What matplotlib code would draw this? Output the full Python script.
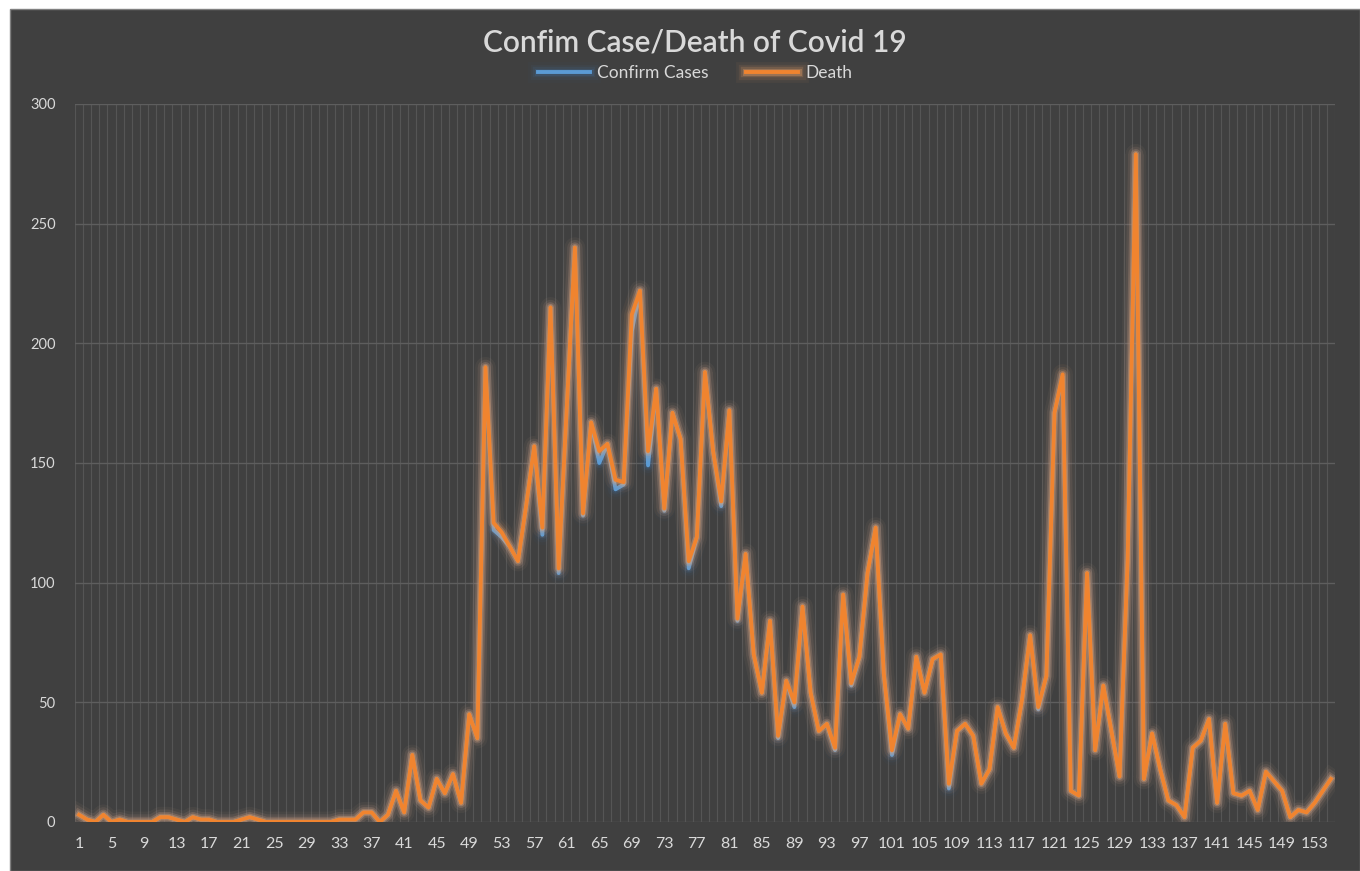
import numpy as np
import matplotlib.pyplot as plt
import matplotlib.patheffects as pe
from matplotlib.patches import Rectangle

# ==========================================================
# Data : daily confirmed cases and deaths
# ==========================================================

days = np.arange(1, 156)

confirm_cases = [
    3, 1, 0, 3, 0, 1, 0, 0, 0, 0,
    2, 2, 1, 0, 2, 1, 1, 0, 0, 0,
    1, 2, 1, 0, 0, 0, 0, 0, 0, 0,
    0, 0, 1, 1, 1, 4, 4, 0, 3, 13,
    4, 28, 9, 6, 18, 12, 20, 8, 45, 35,
    190, 122, 119, 115, 109, 132, 157, 120, 215, 104,
    173, 240, 128, 167, 150, 158, 139, 141, 205, 222,
    149, 181, 130, 171, 160, 106, 119, 188, 155, 132,
    172, 84, 112, 70, 54, 84, 35, 59, 48, 90,
    54, 38, 41, 30, 95, 57, 69, 104, 123, 62,
    28, 45, 39, 69, 54, 68, 70, 14, 38, 41,
    36, 16, 22, 48, 37, 31, 51, 78, 47, 61,
    171, 186, 13, 11, 104, 30, 57, 38, 19, 110,
    279, 18, 37, 22, 9, 7, 2, 31, 34, 43,
    8, 41, 12, 11, 13, 5, 21, 17, 13, 2,
    5, 4, 8, 13, 18,
]

death = [
    3, 1, 0, 3, 0, 1, 0, 0, 0, 0,
    2, 2, 1, 0, 2, 1, 1, 0, 0, 0,
    1, 2, 1, 0, 0, 0, 0, 0, 0, 0,
    0, 0, 1, 1, 1, 4, 4, 0, 3, 13,
    4, 28, 9, 6, 18, 12, 20, 8, 45, 35,
    190, 125, 121, 115, 109, 132, 157, 123, 215, 106,
    173, 240, 129, 167, 155, 158, 143, 142, 212, 222,
    155, 181, 131, 171, 160, 109, 119, 188, 155, 134,
    172, 85, 112, 70, 54, 84, 36, 59, 50, 90,
    54, 38, 41, 31, 95, 58, 69, 104, 123, 62,
    30, 45, 39, 69, 54, 68, 70, 16, 38, 41,
    36, 16, 22, 48, 37, 31, 51, 78, 48, 61,
    171, 187, 13, 11, 104, 30, 57, 38, 19, 110,
    279, 18, 37, 22, 9, 7, 2, 31, 34, 43,
    8, 41, 12, 11, 13, 5, 21, 17, 13, 2,
    5, 4, 8, 13, 18,
]

tick_days = days[::4]

# ==========================================================
# Colours
# ==========================================================

BACKGROUND = "#404040"
TEXT_COLOR = "#D9D9D9"
BLUE = "#5B9BD5"
ORANGE = "#F0842F"

plt.rcParams["font.family"] = ["Lato", "DejaVu Sans"]

# ==========================================================
# Figure
# ==========================================================

fig = plt.figure(figsize=(13.6, 8.71), dpi=100)
fig.patch.set_facecolor("white")

fig.patches.append(
    Rectangle(
        (10 / 1360, 0),
        1 - 10 / 1360,
        1 - 9 / 871,
        transform=fig.transFigure,
        facecolor=BACKGROUND,
        edgecolor="#808080",
        linewidth=1,
        zorder=-10
    )
)

ax = fig.add_axes([0.0551, 0.0563, 0.9265, 0.8243])
ax.set_zorder(2)
ax.set_facecolor(BACKGROUND)


def glow(color, strength=1.0):
    return [
        pe.Stroke(linewidth=15, foreground=color, alpha=0.05 * strength),
        pe.Stroke(linewidth=11, foreground=color, alpha=0.09 * strength),
        pe.Stroke(linewidth=7.5, foreground=color, alpha=0.18 * strength),
        pe.Stroke(linewidth=5, foreground=color, alpha=0.30 * strength),
        pe.Normal()
    ]


ax.plot(
    days,
    confirm_cases,
    color=BLUE,
    linewidth=2.8,
    label="Confirm Cases",
    path_effects=glow("#3F6A96", 0.9),
    zorder=3
)

ax.plot(
    days,
    death,
    color=ORANGE,
    linewidth=2.8,
    label="Death",
    path_effects=glow("#F6A66A"),
    zorder=4
)

# ==========================================================
# Axes
# ==========================================================

ax.set_xlim(0.5, 155.5)
ax.set_ylim(0, 300)

ax.set_yticks(range(0, 301, 50))
ax.set_xticks(tick_days)
ax.set_xticks(np.arange(0.5, 156, 1), minor=True)

ax.grid(axis="y", which="major", color="#5E5E5E", linewidth=1.0, zorder=1)
ax.grid(axis="x", which="minor", color="#555555", linewidth=0.8, zorder=1)
ax.grid(axis="x", which="major", visible=False)
ax.set_axisbelow(True)

ax.tick_params(axis="both", which="both", length=0)
ax.tick_params(axis="x", colors=TEXT_COLOR, labelsize=11.5, pad=11)
ax.tick_params(axis="y", colors=TEXT_COLOR, labelsize=10.5, pad=14)

for spine in ax.spines.values():
    spine.set_visible(False)

# ==========================================================
# Title and Legend
# ==========================================================

fig.text(
    0.511,
    0.951,
    "Confim Case/Death of Covid 19",
    ha="center",
    va="center",
    fontsize=21.5,
    fontweight="semibold",
    color=TEXT_COLOR,
    zorder=5
)

fig.legend(
    loc="center",
    bbox_to_anchor=(0.511, 0.916),
    ncol=2,
    frameon=False,
    fontsize=12.5,
    labelcolor=TEXT_COLOR,
    handlelength=3.0,
    columnspacing=2.2,
    handletextpad=0.4
)

plt.savefig("out.png", dpi=100, facecolor=fig.get_facecolor())
